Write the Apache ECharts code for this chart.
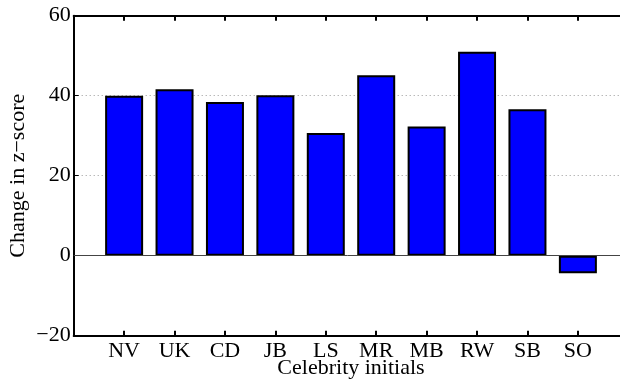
<!DOCTYPE html>
<html>
<head>
<meta charset="utf-8">
<script src="https://cdn.jsdelivr.net/npm/echarts@6/dist/echarts.min.js"></script>
<style>html,body{margin:0;padding:0;background:#fff;overflow:hidden;}#c{width:620px;height:381px;overflow:hidden;}</style>
</head>
<body>
<div id="c"></div>
<script>
const categories = ['NV','UK','CD','JB','LS','MR','MB','RW','SB','SO'];
const values = [40.0, 41.6, 38.4, 40.1, 30.7, 45.1, 32.3, 51.0, 36.6, -4.4];
const yTicks = [-20, 0, 20, 40, 60];
const xTitle = 'Celebrity initials';
const yTitle = 'Change in z\u2212score';

const font = "'Liberation Serif','Times New Roman',serif";
const chart = echarts.init(document.getElementById('c'), null, {renderer:'canvas'});
const fmtNum = v => v < 0 ? '\u2212' + Math.abs(v) : String(v);
chart.setOption({
  animation: false,
  backgroundColor: '#fff',
  grid: {left: 73.7, top: 15.7, width: 554.6, height: 320, containLabel: false, outerBoundsMode: 'none'},
  xAxis: [{
    type: 'value', min: 0, max: categories.length + 1, interval: 1,
    position: 'bottom',
    axisLine: {show: true, onZero: false, lineStyle: {color: '#000', width: 2}},
    axisTick: {show: true, inside: true, length: 5, lineStyle: {color: '#000', width: 2}},
    axisLabel: {show: true, color: '#000', fontFamily: font, fontSize: 22, margin: 5,
      formatter: v => categories[v - 1] || ''},
    splitLine: {show: false},
    name: xTitle, nameLocation: 'middle', nameGap: 22, nameMoveOverlap: false,
    nameTextStyle: {color: '#000', fontFamily: font, fontSize: 22}
  }, {
    type: 'value', min: 0, max: categories.length + 1, interval: 1,
    position: 'top',
    axisLine: {show: true, onZero: false, lineStyle: {color: '#000', width: 2}},
    axisTick: {show: true, inside: true, length: 5, lineStyle: {color: '#000', width: 2}},
    axisLabel: {show: false},
    splitLine: {show: false}
  }],
  yAxis: [{
    type: 'value', min: yTicks[0], max: yTicks[yTicks.length - 1], interval: 20,
    axisLine: {show: true, onZero: false, lineStyle: {color: '#000', width: 2}},
    axisTick: {show: true, inside: true, length: 5, lineStyle: {color: '#000', width: 1}},
    axisLabel: {color: '#000', fontFamily: font, fontSize: 22, margin: 3, formatter: fmtNum},
    splitLine: {show: true, lineStyle: {color: '#999', width: 1, type: [1, 3]}},
    name: yTitle, nameLocation: 'middle', nameGap: 44, nameMoveOverlap: false,
    nameTextStyle: {color: '#000', fontFamily: font, fontSize: 22}
  }],
  series: [{
    type: 'bar',
    xAxisIndex: 0,
    data: values.map((v, i) => [i + 1, v]),
    barWidth: 38,
    itemStyle: {color: '#0000ff', borderColor: '#000', borderWidth: 2},
    markLine: {
      silent: true, symbol: 'none', label: {show: false},
      lineStyle: {color: '#444', width: 1, type: 'solid'},
      data: [{yAxis: 0}]
    }
  }]
});
</script>
</body>
</html>
